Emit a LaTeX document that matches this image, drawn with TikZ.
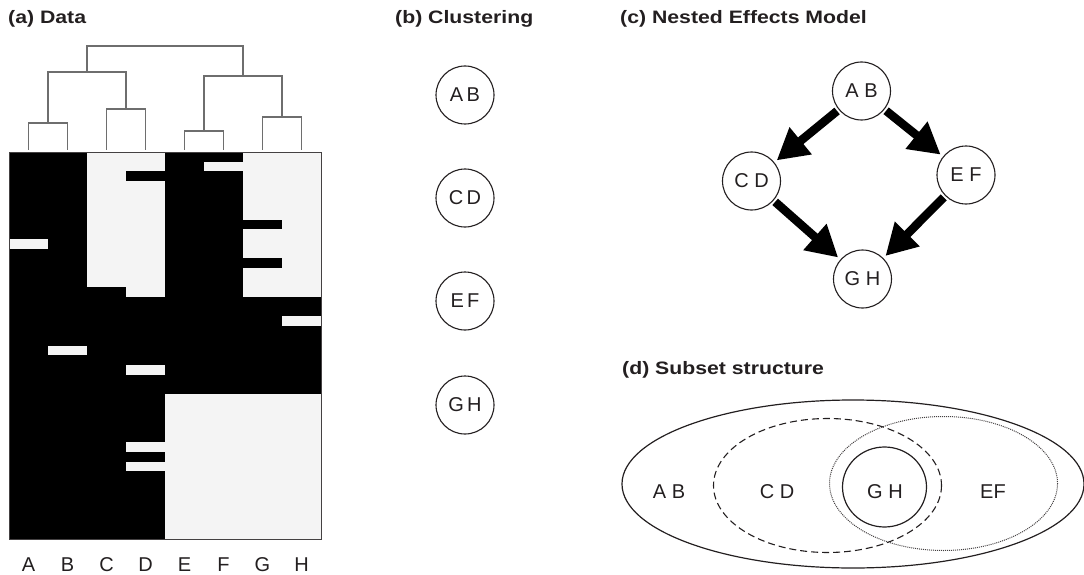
\documentclass[tikz,border=0pt]{standalone}
\usepackage{fontspec}
\setmainfont{Liberation Sans}
\newfontfamily\headfont[FakeStretch=1.18]{Liberation Sans}
\usetikzlibrary{arrows.meta}

\definecolor{ink}{HTML}{231F20}
\definecolor{cellgrey}{HTML}{F4F4F4}
\definecolor{treegrey}{HTML}{6E6E6E}

\tikzset{
	paneltitle/.style={anchor=base west, inner sep=0pt, text=ink, font=\headfont\bfseries\fontsize{18}{20}\selectfont},
	lbl/.style={inner sep=0pt, text=ink, font=\fontsize{20}{22}\selectfont},
	gene/.style={circle, draw=ink, line width=1.1pt, minimum size=58pt, inner sep=0pt, text=ink, font=\fontsize{20}{22}\selectfont},
	effect/.style={draw=black, line width=8.5pt, -{Triangle[length=31pt,width=33pt]}, shorten <=2pt, shorten >=3pt},
	dendro/.style={draw=treegrey, line width=1.3pt},
}

\begin{document}
\begin{tikzpicture}[x=1pt, y=-1pt]
		%%%%% START %%%%%
		\useasboundingbox (0,0) rectangle (1084,575);
		
		\node[paneltitle] (ta) at (8,24) {(a) Data};
		\node[paneltitle] (tb) at (395,24) {(b) Clustering};
		\node[paneltitle] (tc) at (620,24) {(c) Nested Effects Model};
		\node[paneltitle] (td) at (622,374) {(d) Subset structure};
		
		% dendrogram
		\draw[dendro] (28.5,150) |- (67.5,123) -- (67.5,150);
		\draw[dendro] (106.5,150) |- (145.5,109) -- (145.5,150);
		\draw[dendro] (184.5,150) |- (223.5,131) -- (223.5,150);
		\draw[dendro] (262.5,150) |- (301.5,117) -- (301.5,150);
		\draw[dendro] (48,123) |- (126,72) -- (126,109);
		\draw[dendro] (204,131) |- (282,76) -- (282,117);
		\draw[dendro] (87,72) |- (243,46) -- (243,76);
		
		% data matrix
		\begin{scope}[shift={(9,152)}, x=39pt, y=-9.675pt]
			\fill[black] (0,0) rectangle (8,40);
			\fill[cellgrey] (2,0) rectangle (3,14);
			\fill[cellgrey] (3,0) rectangle (4,15);
			\fill[cellgrey] (6,0) rectangle (8,15);
			\fill[cellgrey] (4,25) rectangle (8,40);
			
			\fill[black] (3,2) rectangle (4,3);
			\fill[black] (6,7) rectangle (7,8);
			\fill[black] (6,11) rectangle (7,12);
			
			\fill[cellgrey] (5,1) rectangle (6,2);
			\fill[cellgrey] (0,9) rectangle (1,10);
			\fill[cellgrey] (7,17) rectangle (8,18);
			\fill[cellgrey] (1,20) rectangle (2,21);
			\fill[cellgrey] (3,22) rectangle (4,23);
			\fill[cellgrey] (3,30) rectangle (4,31);
			\fill[cellgrey] (3,32) rectangle (4,33);
			
			\draw[ink!85, line width=0.8pt] (0,0) rectangle (8,40);
		\end{scope}
		
		\foreach \g [count=\i from 0] in {A,...,H}
			\node[lbl] (col\g) at (28.5+39*\i, 565) {\g};
		
		% clustering
		\node[gene] (clAB) at (465,95) {A\,B};
		\node[gene] (clCD) at (465,198) {C\,D};
		\node[gene] (clEF) at (465,301) {E\,F};
		\node[gene] (clGH) at (465,405) {G\,H};
		
		% nested effects model
		\node[gene] (nAB) at (861.5,91) {A B};
		\node[gene] (nCD) at (751.5,181) {C D};
		\node[gene] (nEF) at (966,175) {E F};
		\node[gene] (nGH) at (862.5,279) {G H};
		
		\draw[effect] (nAB) -- (nCD);
		\draw[effect] (nAB) -- (nEF);
		\draw[effect] (nCD) -- (nGH);
		\draw[effect] (nEF) -- (nGH);
		
		% subset structure
		\draw[ink, line width=1.2pt] (853,484) ellipse [x radius=231, y radius=84];
		\draw[ink, line width=1.1pt, dash pattern=on 7pt off 4pt] (827.5,485.5) ellipse [x radius=114, y radius=67];
		\draw[ink!85, line width=1pt, densely dotted] (943.5,483.5) ellipse [x radius=114, y radius=67];
		\draw[ink, line width=1.2pt] (884.5,487) ellipse [x radius=42, y radius=40];
		
		\node[lbl] (sAB) at (669,492) {A B};
		\node[lbl] (sCD) at (777,492) {C D};
		\node[lbl] (sGH) at (885,492) {G H};
		\node[lbl] (sEF) at (993,492) {EF};
		
		%%%%% END %%%%%
\end{tikzpicture}
\end{document}
